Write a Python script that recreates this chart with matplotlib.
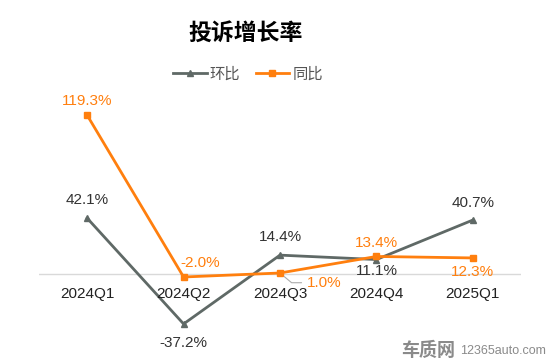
import matplotlib.pyplot as plt

plt.rcParams['font.family'] = ['Liberation Sans', 'Noto Sans CJK SC', 'DejaVu Sans']

quarters = ['2024Q1', '2024Q2', '2024Q3', '2024Q4', '2025Q1']
huanbi = [42.1, -37.2, 14.4, 11.1, 40.7]
tongbi = [119.3, -2.0, 1.0, 13.4, 12.3]

gray = '#5f6966'
orange = '#ff7f0e'

fig = plt.figure(figsize=(5.5, 3.62), dpi=100)
ax = fig.add_axes([39 / 550, 1 - 341 / 362, 482 / 550, 240 / 362])
x = range(len(quarters))
ax.plot(x, huanbi, color=gray, lw=2, marker='^', ms=5, label='环比')
ax.plot(x, tongbi, color=orange, lw=2, marker='s', ms=5, label='同比')
ax.axhline(0, color='#d9d9d9', lw=1, zorder=0)
ax.set_xlim(-0.5, 4.5)
ax.set_ylim(-50, 130)
ax.axis('off')

for i, q in enumerate(quarters):
    ax.annotate(q, (i, 0), xytext=(0, -14), textcoords='offset points',
                ha='center', va='center', fontsize=11, color='#222222')

# label offsets in points (dx, dy)
h_off = [(0, 13), (0, -14), (0, 13), (0, -8), (0, 12)]
t_off = [(0, 10), (12, 10), (0, 0), (0, 10), (0, -10)]
for i, v in enumerate(huanbi):
    ax.annotate(f'{v:.1f}%', (i, v), xytext=h_off[i], textcoords='offset points',
                ha='center', va='center', fontsize=11, color='#333333')
for i, v in enumerate(tongbi):
    if i == 2:
        # leader line for the 1.0% label
        ax.annotate(f'{v:.1f}%', (i, v), xytext=(32, -7), textcoords='offset points',
                    ha='center', va='center', fontsize=11, color=orange,
                    arrowprops=dict(arrowstyle='-', color='#aaaaaa', lw=0.8,
                                    shrinkA=2, shrinkB=4,
                                    connectionstyle='angle,angleA=0,angleB=-40,rad=0'))
        continue
    ax.annotate(f'{v:.1f}%', (i, v), xytext=t_off[i], textcoords='offset points',
                ha='center', va='center', fontsize=11, color=orange)

fig.text(246 / 550, 1 - 33 / 362, '投诉增长率', ha='center', va='center',
         fontsize=16.5, fontweight='bold', family=['Noto Sans CJK SC'])
fig.legend(loc='center', bbox_to_anchor=(248 / 550, 1 - 74 / 362), ncol=2,
           frameon=False, handlelength=2.2, columnspacing=1.0,
           handletextpad=0.2, labelcolor='#555555',
           prop={'family': ['Noto Sans CJK SC'], 'size': 11})

fig.text(455 / 550, 1 - 350 / 362, '车质网', ha='right', va='center',
         fontsize=13, fontweight='bold', style='italic', color='#8a8a8a',
         family=['Noto Sans CJK SC'])
fig.text(1 - 4 / 550, 1 - 351 / 362, '12365auto.com', ha='right', va='center',
         fontsize=9, color='#8a8a8a')

fig.savefig('out.png', dpi=100)
